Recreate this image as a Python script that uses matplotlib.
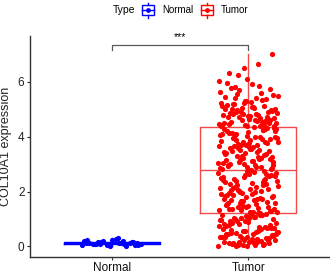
import numpy as np
import matplotlib
matplotlib.use("Agg")
import matplotlib.pyplot as plt
from matplotlib.patches import Rectangle

plt.rcParams['font.family'] = ['Liberation Sans', 'DejaVu Sans']

groups = ["Normal", "Tumor"]
colors = ["#0000FF", "#FF0000"]
y_label = "COL10A1 expression"
y_ticks = [0, 2, 4, 6]
signif = "***"

normal_vals = [0.05, 0.12, 0.08, 0.18, 0.03, 0.22, 0.10, 0.15, 0.06, 0.27,
               0.09, 0.14, 0.04, 0.20, 0.11, 0.16, 0.07, 0.24, 0.13, 0.02,
               0.19, 0.10, 0.30, 0.08, 0.17, 0.05, 0.12, 0.21, 0.09, 0.14]

tumor_vals = [
    # below Q1
    0.02, 0.05, 0.08, 0.11, 0.03, 0.15, 0.19, 0.07, 0.22, 0.26,
    0.12, 0.31, 0.04, 0.35, 0.28, 0.09, 0.41, 0.17, 0.45, 0.06,
    0.38, 0.52, 0.14, 0.48, 0.24, 0.57, 0.33, 0.61, 0.01, 0.66,
    0.21, 0.44, 0.71, 0.29, 0.75, 0.54, 0.13, 0.79, 0.36, 0.83,
    0.63, 0.18, 0.87, 0.47, 0.91, 0.69, 0.25, 0.95, 0.58, 0.99,
    0.39, 1.02, 0.73, 0.10, 1.05, 0.51, 1.08, 0.85, 0.30, 1.11,
    0.64, 1.14, 0.93, 0.42, 1.17, 0.77, 1.19, 0.55, 0.97, 0.16,
    1.03, 0.68, 0.89, 0.34, 1.13, 0.81, 0.46, 1.07, 0.60, 0.23,
    0.94, 1.16, 0.72, 0.50, 1.00,
    # Q1 - median
    1.24, 1.88, 2.41, 1.33, 2.67, 1.56, 2.12, 1.29, 2.75, 1.71,
    2.03, 1.45, 2.58, 1.92, 1.38, 2.29, 1.64, 2.49, 1.22, 2.18,
    1.81, 2.63, 1.51, 2.36, 1.97, 1.27, 2.71, 1.68, 2.08, 1.42,
    2.54, 1.77, 2.23, 1.35, 2.78, 1.59, 2.45, 1.95, 1.31, 2.15,
    1.86, 2.61, 1.48, 2.33, 1.74, 2.01, 2.69, 1.26, 2.26, 1.62,
    2.52, 1.91, 1.40, 2.38, 1.83, 2.10, 1.54, 2.73, 1.66, 2.20,
    1.99, 1.36, 2.56, 1.79, 2.43, 1.23, 2.06, 1.60, 2.31, 1.94,
    2.65, 1.47, 2.13, 1.72, 2.47, 1.30, 2.77, 1.85, 2.25, 1.57,
    2.40, 1.69, 2.04, 1.44, 2.59,
    # median - Q3
    2.83, 3.52, 4.11, 3.07, 3.88, 2.95, 4.27, 3.31, 3.66, 2.88,
    3.94, 3.19, 4.02, 3.45, 2.91, 3.73, 4.19, 3.12, 3.58, 4.31,
    3.01, 3.84, 3.25, 4.08, 2.86, 3.61, 3.39, 4.23, 3.15, 3.79,
    2.98, 4.14, 3.49, 3.70, 3.05, 3.97, 3.28, 4.33, 3.55, 2.93,
    3.82, 3.21, 4.05, 3.43, 3.67, 2.81, 4.17, 3.35, 3.90, 3.09,
    4.26, 3.63, 3.00, 3.76, 3.41, 4.10, 3.17, 3.86, 2.97, 3.54,
    4.21, 3.33, 3.71, 3.03, 4.00, 3.47, 3.92, 2.89, 4.29, 3.23,
    3.60, 3.99, 3.11, 4.13, 3.37, 3.81, 2.85, 3.68, 4.07, 3.27,
    3.75, 3.14, 4.25, 3.50, 3.96,
    # above Q3
    4.36, 4.52, 4.88, 4.41, 5.12, 4.67, 4.95, 4.39, 5.26, 4.73,
    4.58, 5.03, 4.45, 4.81, 5.18, 4.62, 4.37, 4.99, 5.34, 4.70,
    4.48, 5.07, 4.85, 4.55, 5.22, 4.40, 4.77, 5.41, 4.93, 4.64,
    5.15, 4.43, 4.90, 5.48, 4.60, 5.01, 4.50, 5.30, 4.79, 4.38,
    5.55, 4.68, 5.09, 4.46, 5.37, 4.83, 5.62, 4.57, 5.20, 4.97,
    4.74, 5.44, 4.53, 5.68, 4.87, 5.05, 5.77, 4.65, 5.28, 4.42,
    5.85, 4.91, 5.51, 4.76, 5.95, 5.13, 4.59, 6.02, 5.39, 4.84,
    5.72, 6.10, 4.49, 5.58, 6.25, 5.00, 5.90, 6.33, 4.71, 6.50,
    5.24, 6.64, 5.81, 7.00, 4.63,
]

data = [normal_vals, tumor_vals]

fig = plt.figure(figsize=(3.3, 2.73), dpi=100)
ax = fig.add_axes([0.091, 0.06, 0.909, 0.809])

for i, (vals, col) in enumerate(zip(data, colors)):
    pos = i + 1
    lc = col if i == 0 else "#F24A4A"
    ax.boxplot([vals], positions=[pos], widths=0.7, showfliers=False,
               boxprops=dict(color=lc, linewidth=1.0),
               whiskerprops=dict(color=lc, linewidth=1.0),
               capprops=dict(linewidth=0),
               medianprops=dict(color=lc, linewidth=1.0),
               zorder=2)
    n = len(vals)
    # spread points sideways like geom_jitter (deterministic offsets)
    offs = ((np.arange(n) * 0.6180339887) % 1.0 - 0.5) * 0.44
    ax.scatter(pos + offs, vals, s=14, color=col, linewidths=0, zorder=3)

# significance bracket
yb = 7.33
ax.plot([1, 1, 2, 2], [yb - 0.17, yb, yb, yb - 0.17], color="#5A5A5A",
        linewidth=0.9, clip_on=False)
ax.text(1.5, yb + 0.1, signif, ha="center", va="bottom", fontsize=7.5)

ax.set_xlim(0.4, 2.6)
ax.set_ylim(-0.37, 7.67)
ax.set_xticks([1, 2])
ax.set_xticklabels(groups)
ax.set_yticks(y_ticks)
ax.set_ylabel(y_label, fontsize=9, color="#222222", labelpad=4)
ax.tick_params(labelsize=8.5, colors="#222222", length=2.5, width=0.8, pad=1.5)
ax.tick_params(axis="x", colors="#333333", labelcolor="#111111")
for s in ["top", "right"]:
    ax.spines[s].set_visible(False)
for s in ["left", "bottom"]:
    ax.spines[s].set_linewidth(1.0)
    ax.spines[s].set_color("#333333")

# legend on top (drawn in pixel space)
lg = fig.add_axes([0, 0, 1, 1], facecolor="none")
lg.set_xlim(0, 330)
lg.set_ylim(273, 0)
lg.axis("off")
lg.text(113, 10, "Type", fontsize=7.5, va="center", ha="left")
for kx, col, lab in [(142, colors[0], groups[0]), (201, colors[1], groups[1])]:
    lg.add_patch(Rectangle((kx, 5), 11.5, 10, fill=False, edgecolor=col, lw=1.0))
    lg.plot([kx + 5.75, kx + 5.75], [2.5, 5], color=col, lw=1.0)
    lg.plot([kx + 5.75, kx + 5.75], [15, 17.5], color=col, lw=1.0)
    lg.plot([kx, kx + 11.5], [10, 10], color=col, lw=1.0)
    lg.scatter([kx + 5.75], [10], s=12, color=col, linewidths=0)
    lg.text(kx + 20, 10, lab, fontsize=7, va="center", ha="left")

fig.savefig("out.png", dpi=100)
